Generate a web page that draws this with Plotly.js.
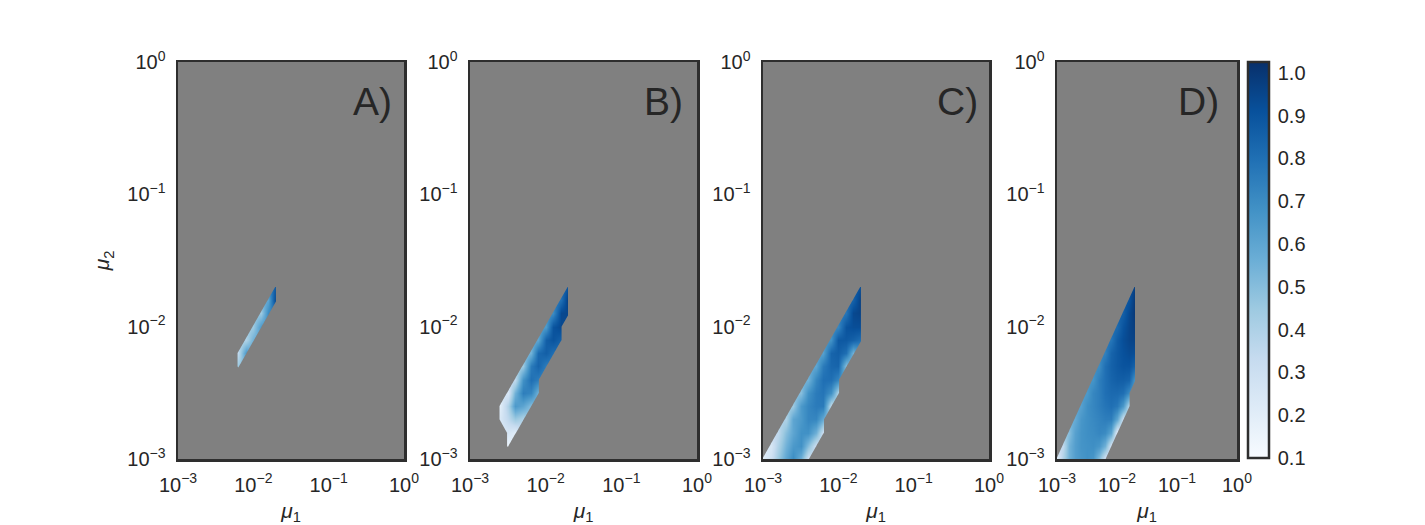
<!DOCTYPE html>
<html>
<head>
<meta charset="utf-8">
<script src="https://cdn.plot.ly/plotly-3.0.1.min.js"></script>
<style>
html,body{margin:0;padding:0;background:#fff;}
#chart{width:1425px;height:525px;}
</style>
</head>
<body>
<div id="chart"></div>
<script>
const _ = null;
// grid of mutation rates (log-spaced), shared by all panels
const MU1 = [0.001, 0.001259, 0.001585, 0.001995, 0.002512, 0.003162, 0.003981, 0.005012, 0.00631, 0.007943, 0.01, 0.012589, 0.015849, 0.019953];
const MU2 = [0.001, 0.001259, 0.001585, 0.001995, 0.002512, 0.003162, 0.003981, 0.005012, 0.00631, 0.007943, 0.01, 0.012589, 0.015849, 0.019953];

// rows: MU2 index (bottom to top), columns: MU1 index
const Z_A = [
  [_,_,_,_,_,_,_,_,_,_,_,_,_,_],
  [_,_,_,_,_,_,_,_,_,_,_,_,_,_],
  [_,_,_,_,_,_,_,_,_,_,_,_,_,_],
  [_,_,_,_,_,_,_,_,_,_,_,_,_,_],
  [_,_,_,_,_,_,_,_,_,_,_,_,_,_],
  [_,_,_,_,_,_,_,_,_,_,_,_,_,_],
  [_,_,_,_,_,_,_,_,_,_,_,_,_,_],
  [_,_,_,_,_,_,_,_,0.45,_,_,_,_,_],
  [_,_,_,_,_,_,_,_,0.35,0.65,_,_,_,_],
  [_,_,_,_,_,_,_,_,_,0.4,0.55,_,_,_],
  [_,_,_,_,_,_,_,_,_,_,0.45,0.65,_,_],
  [_,_,_,_,_,_,_,_,_,_,_,0.45,0.7,_],
  [_,_,_,_,_,_,_,_,_,_,_,_,0.6,0.97],
  [_,_,_,_,_,_,_,_,_,_,_,_,_,0.9]
];
const Z_B = [
  [_,_,_,_,_,_,_,_,_,_,_,_,_,_],
  [_,_,_,_,_,0.15,_,_,_,_,_,_,_,_],
  [_,_,_,_,_,0.25,0.2,_,_,_,_,_,_,_],
  [_,_,_,_,0.25,0.35,0.45,0.4,_,_,_,_,_,_],
  [_,_,_,_,0.2,0.4,0.65,0.6,0.5,_,_,_,_,_],
  [_,_,_,_,_,0.25,0.55,0.75,0.72,0.55,_,_,_,_],
  [_,_,_,_,_,_,0.35,0.68,0.8,0.75,_,_,_,_],
  [_,_,_,_,_,_,_,0.45,0.76,0.84,0.75,_,_,_],
  [_,_,_,_,_,_,_,_,0.55,0.82,0.86,0.8,_,_],
  [_,_,_,_,_,_,_,_,_,0.6,0.86,0.9,0.85,_],
  [_,_,_,_,_,_,_,_,_,_,0.65,0.9,0.94,_],
  [_,_,_,_,_,_,_,_,_,_,_,0.7,0.94,0.95],
  [_,_,_,_,_,_,_,_,_,_,_,_,0.8,0.98],
  [_,_,_,_,_,_,_,_,_,_,_,_,_,0.9]
];
const Z_C = [
  [0.2,0.3,0.45,0.6,0.7,0.55,0.3,_,_,_,_,_,_,_],
  [_,0.25,0.4,0.55,0.65,0.68,0.5,0.3,_,_,_,_,_,_],
  [_,_,0.35,0.5,0.6,0.68,0.68,0.55,0.3,_,_,_,_,_],
  [_,_,_,0.4,0.6,0.65,0.72,0.72,0.58,_,_,_,_,_],
  [_,_,_,_,0.45,0.65,0.72,0.76,0.76,0.35,_,_,_,_],
  [_,_,_,_,_,0.5,0.68,0.76,0.78,0.68,0.4,_,_,_],
  [_,_,_,_,_,_,0.55,0.72,0.8,0.8,0.72,_,_,_],
  [_,_,_,_,_,_,_,0.6,0.76,0.83,0.84,0.5,_,_],
  [_,_,_,_,_,_,_,_,0.62,0.84,0.86,0.8,0.55,_],
  [_,_,_,_,_,_,_,_,_,0.68,0.88,0.88,0.85,0.8],
  [_,_,_,_,_,_,_,_,_,_,0.72,0.9,0.92,0.92],
  [_,_,_,_,_,_,_,_,_,_,_,0.78,0.94,0.96],
  [_,_,_,_,_,_,_,_,_,_,_,_,0.85,0.98],
  [_,_,_,_,_,_,_,_,_,_,_,_,_,0.92]
];
const Z_D = [
  [0.2,0.4,0.55,0.63,0.66,0.68,0.66,0.5,0.28,_,_,_,_,_],
  [_,0.35,0.55,0.63,0.67,0.68,0.69,0.66,0.55,0.28,_,_,_,_],
  [_,_,0.5,0.62,0.67,0.69,0.7,0.72,0.7,0.6,0.22,_,_,_],
  [_,_,_,0.58,0.66,0.69,0.71,0.73,0.75,0.75,0.6,0.32,_,_],
  [_,_,_,_,0.62,0.69,0.72,0.75,0.78,0.8,0.77,0.65,0.38,_],
  [_,_,_,_,_,0.65,0.72,0.75,0.8,0.82,0.82,0.8,0.7,_],
  [_,_,_,_,_,_,0.67,0.75,0.8,0.84,0.86,0.86,0.84,0.65],
  [_,_,_,_,_,_,_,0.7,0.8,0.85,0.88,0.9,0.9,0.84],
  [_,_,_,_,_,_,_,_,0.74,0.84,0.88,0.91,0.93,0.92],
  [_,_,_,_,_,_,_,_,_,0.78,0.87,0.92,0.95,0.96],
  [_,_,_,_,_,_,_,_,_,_,0.82,0.9,0.95,0.98],
  [_,_,_,_,_,_,_,_,_,_,_,0.86,0.94,1.0],
  [_,_,_,_,_,_,_,_,_,_,_,_,0.9,1.0],
  [_,_,_,_,_,_,_,_,_,_,_,_,_,0.97]
];

const PANELS = ['A)', 'B)', 'C)', 'D)'];
const Z_ALL = [Z_A, Z_B, Z_C, Z_D];
const TICK_VALS = [0.001, 0.01, 0.1, 1];
const TICK_TEXT = ['10<sup>\u22123</sup>', '10<sup>\u22122</sup>', '10<sup>\u22121</sup>', '10<sup>0</sup>'];
const CB_VALS = [0.1, 0.2, 0.3, 0.4, 0.5, 0.6, 0.7, 0.8, 0.9, 1.0];
const CB_TEXT = ['0.1', '0.2', '0.3', '0.4', '0.5', '0.6', '0.7', '0.8', '0.9', '1.0'];
const Z_MIN = 0.1, Z_MAX = 1.025;

const BLUES = [
  [0.0, '#f7fbff'], [0.125, '#deebf7'], [0.25, '#c6dbef'], [0.375, '#9ecae1'],
  [0.5, '#6baed6'], [0.625, '#4292c6'], [0.75, '#2171b5'], [0.875, '#08519c'], [1.0, '#08306b']
];

const W = 1425, H = 525;
const PX = [[178, 404], [470, 697], [763, 989], [1057, 1237]];
const PY = [62, 459];
const FONT = 'Liberation Sans, Arial, sans-serif';
const TXT = '#262626';
const LINE = '#2e2e2e';

const traces = [];
const layout = {
  width: W, height: H,
  margin: {l: 0, r: 0, t: 0, b: 0},
  paper_bgcolor: '#ffffff',
  plot_bgcolor: '#808080',
  showlegend: false,
  font: {family: FONT, color: TXT, size: 20},
  annotations: []
};

const LABEL_RIGHT = [394, 685, 980, 1221];

for (let k = 0; k < 4; k++) {
  const sfx = k === 0 ? '' : String(k + 1);
  const last = k === 3;
  traces.push({
    type: 'contour',
    x: MU1, y: MU2, z: Z_ALL[k],
    xaxis: 'x' + sfx, yaxis: 'y' + sfx,
    contours: {coloring: 'heatmap', showlines: false},
    line: {width: 0},
    connectgaps: false,
    colorscale: BLUES,
    zmin: Z_MIN, zmax: Z_MAX,
    hoverinfo: 'skip',
    showscale: last,
    colorbar: last ? {
      x: 1248 / W, xanchor: 'left', xpad: 0,
      y: (H - 458) / H, yanchor: 'bottom', ypad: 0,
      len: 396 / H, lenmode: 'fraction',
      thickness: 21, thicknessmode: 'pixels',
      outlinewidth: 2.5, outlinecolor: LINE,
      tickvals: CB_VALS, ticktext: CB_TEXT,
      ticks: 'outside', ticklen: 4, tickcolor: 'rgba(0,0,0,0)',
      tickfont: {family: FONT, size: 20, color: TXT}
    } : undefined
  });
  const common = {
    type: 'log', range: [-3, 0],
    tickvals: TICK_VALS, ticktext: TICK_TEXT,
    showgrid: false, zeroline: false,
    showline: true, mirror: true, linecolor: LINE, linewidth: 2.5,
    ticks: '', ticklabelstandoff: 6,
    tickfont: {family: FONT, size: 20, color: TXT},
    fixedrange: true
  };
  layout['xaxis' + sfx] = Object.assign({}, common, {
    domain: [PX[k][0] / W, PX[k][1] / W],
    anchor: 'y' + sfx,
    title: {text: '<i>\u03bc</i><sub>1</sub>', font: {family: FONT, size: 21, color: TXT}, standoff: 10}
  });
  layout['yaxis' + sfx] = Object.assign({}, common, {
    domain: [(H - PY[1]) / H, (H - PY[0]) / H],
    anchor: 'x' + sfx,
    title: k === 0 ? {text: '<i>\u03bc</i><sub>2</sub>', font: {family: FONT, size: 21, color: TXT}, standoff: 12} : {text: ''}
  });
  layout.annotations.push({
    text: PANELS[k], showarrow: false,
    xref: 'paper', yref: 'paper',
    x: LABEL_RIGHT[k] / W, xanchor: 'right',
    y: (H - 101) / H, yanchor: 'middle',
    font: {family: FONT, size: 39, color: TXT}
  });
}

Plotly.newPlot('chart', traces, layout, {staticPlot: true, displayModeBar: false});
</script>
</body>
</html>
